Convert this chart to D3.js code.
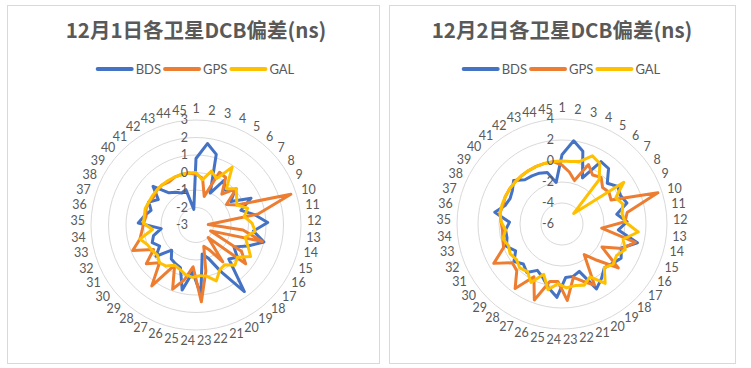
<!DOCTYPE html>
<html><head><meta charset="utf-8">
<script src="https://cdn.jsdelivr.net/npm/d3@7"></script>
<style>body{margin:0;background:#fff}svg{display:block}</style>
</head><body>
<svg id="chart" width="751" height="368"></svg>
<script>
const categories = ["1","2","3","4","5","6","7","8","9","10","11","12","13","14","15","16","17","18","19","20","21","22","23","24","25","26","27","28","29","30","31","32","33","34","35","36","37","38","39","40","41","42","43","44","45"];
const seriesNames = ["BDS","GPS","GAL"];
const titles = ["12月1日各卫星DCB偏差(ns)","12月2日各卫星DCB偏差(ns)"];
const day1Ticks = [-3,-2,-1,0,1,2,3];
const day2Ticks = [-6,-4,-2,0,2,4];

const day1BDS = [0.8,1.7,1.2,-1.0,0.0,-0.4,0.0,-0.6,0.5,-0.3,0.4,1.1,0.3,1.0,0.2,-0.5,0.0,-0.3,1.7,0.0,-1.0,-1.3,1.0,-0.3,0.8,-0.4,-0.5,-0.6,-1.0,-0.1,-0.6,-0.3,-0.5,-1.0,0.3,0.0,-0.3,0.0,-0.4,0.3,-0.6,-0.8,-1.0,-0.9,-2.1];
const day1GPS = [-0.1,-0.3,-1.3,0.3,0.2,-0.7,0.1,-0.9,-0.4,2.7,0.6,-2.3,-0.3,0.9,-2.1,0.0,0.6,-2.0,-0.4,-1.4,-1.7,-0.3,1.4,-0.6,0.2,0.9,-0.4,1.3,0.0,0.6,-0.2,0.9,0.3,0.1,0.0,-0.1,0.0,0.0,-0.1,0.0,0.0,-0.1,0.0,0.0,0.0];
const day1GAL = [0.0,-0.4,0.2,-0.1,0.9,-0.3,0.1,-0.2,-0.4,0.1,-0.2,0.2,0.4,-0.1,0.2,0.6,0.0,0.2,-0.2,-0.1,0.4,0.0,-0.1,0.0,-0.1,-0.3,-0.4,-0.1,0.0,-0.2,-0.1,0.0,0.3,-0.5,0.0,0.0,0.05,0.0,0.0,0.0,0.0,0.0,0.0,0.0,0.0];

const day2BDS = [0.6,2.0,1.2,-1.2,1.0,0.9,-0.2,0.4,0.2,0.5,-0.7,0.2,-0.6,1.4,0.1,0.5,0.1,-0.2,0.4,1.0,-1.2,-0.9,-0.9,1.0,0.2,-0.6,-1.0,-0.3,-0.7,-0.2,-0.9,-0.3,-0.6,-0.6,-1.0,0.5,-0.3,-0.5,-0.3,0.2,-0.5,-0.6,-0.7,-0.9,-2.0];
const day2GPS = [-0.4,-1.0,-1.7,0.2,-0.5,-0.2,-0.8,-0.6,-0.8,3.6,0.3,0.0,-2.2,1.2,0.2,-1.6,0.8,-1.2,-2.4,0.6,-0.2,-0.8,1.3,-0.5,-0.4,1.7,-0.3,1.6,0.2,0.0,1.5,0.0,-0.2,-0.3,-0.2,0.0,-0.1,0.0,0.0,0.0,0.0,0.0,0.0,0.0,0.0];
const day2GAL = [0.0,0.0,0.2,1.1,0.8,-0.5,-4.5,1.1,-0.3,0.1,-0.2,0.0,1.3,0.0,0.5,0.0,0.2,-0.2,1.0,-0.3,0.2,0.0,0.1,-0.3,0.4,-0.9,0.3,-0.4,-0.2,-0.5,-0.3,-0.5,-0.2,-0.6,-0.2,0.0,0.0,0.0,0.0,0.0,0.0,0.0,0.0,0.0,0.0];

const colors = ["#4472C4","#ED7D31","#FFC000"];
const textColor = "#595959";
const gridColor = "#d9d9d9";
const font = "Lato, 'Open Sans', sans-serif";

const svg = d3.select("#chart");

const panels = [
  {x:7, y:5, w:372, h:358, cx:196, cy:225, title:titles[0], ticks:day1Ticks, data:[day1BDS,day1GPS,day1GAL]},
  {x:389, y:5, w:346, h:358, cx:562, cy:224, title:titles[1], ticks:day2Ticks, data:[day2BDS,day2GPS,day2GAL]}
];

const R = 105;
const n = categories.length;
const angle = i => i * 2 * Math.PI / n;

panels.forEach(p => {
  const g = svg.append("g");
  g.append("rect").attr("x", p.x + 0.5).attr("y", p.y + 0.5).attr("width", p.w).attr("height", p.h)
    .attr("fill", "#fff").attr("stroke", gridColor).attr("stroke-width", 1);

  // title
  g.append("text").attr("x", p.cx).attr("y", 38).attr("text-anchor", "middle")
    .attr("font-family", "'Noto Sans CJK SC', sans-serif").attr("font-weight", "bold")
    .attr("font-size", 20.5).attr("fill", textColor).text(p.title);

  // legend
  const lg = g.append("g");
  let lx = 0;
  seriesNames.forEach((s, i) => {
    lg.append("line").attr("x1", lx).attr("x2", lx + 34).attr("y1", 69).attr("y2", 69)
      .attr("stroke", colors[i]).attr("stroke-width", 4).attr("stroke-linecap", "round");
    const t = lg.append("text").attr("x", lx + 38).attr("y", 69).attr("dy", "0.35em")
      .attr("font-family", font).attr("font-size", 13).attr("fill", textColor).text(s);
    lx += 38 + t.node().getComputedTextLength() + 4;
  });
  const lw = lx - 4;
  lg.attr("transform", `translate(${p.cx - lw / 2},0)`);

  const domain = d3.extent(p.ticks);
  const r = d3.scaleLinear().domain(domain).range([0, R]);
  const c = g.append("g").attr("transform", `translate(${p.cx},${p.cy})`);

  // grid rings
  c.selectAll("circle.ring").data(p.ticks.filter(t => r(t) > 0)).join("circle")
    .attr("class", "ring").attr("r", d => r(d)).attr("fill", "none")
    .attr("stroke", gridColor).attr("stroke-width", 1);

  // series
  const line = d3.lineRadial().angle((d, i) => angle(i)).radius(d => r(d)).curve(d3.curveLinearClosed);
  p.data.forEach((vals, si) => {
    c.append("path").attr("d", line(vals)).attr("fill", "none")
      .attr("stroke", colors[si]).attr("stroke-width", 3)
      .attr("stroke-linejoin", "round");
  });

  // tick labels
  c.selectAll("text.tick").data(p.ticks).join("text").attr("class", "tick")
    .attr("x", -8).attr("y", d => -r(d)).attr("dy", "0.35em").attr("text-anchor", "end")
    .attr("font-family", font).attr("font-size", 12.5).attr("fill", textColor)
    .text(d => d);

  // category labels
  categories.forEach((cat, i) => {
    const a = angle(i);
    const s = Math.sin(a), co = Math.cos(a);
    const t = c.append("text").attr("font-family", font).attr("font-size", 12.5)
      .attr("fill", textColor).attr("text-anchor", "middle").attr("dy", "0.35em").text(cat);
    const w = t.node().getComputedTextLength();
    const rr = R + 6;
    t.attr("x", rr * s + s * w / 2).attr("y", -rr * co - co * 5);
  });
});
</script>
</body></html>
